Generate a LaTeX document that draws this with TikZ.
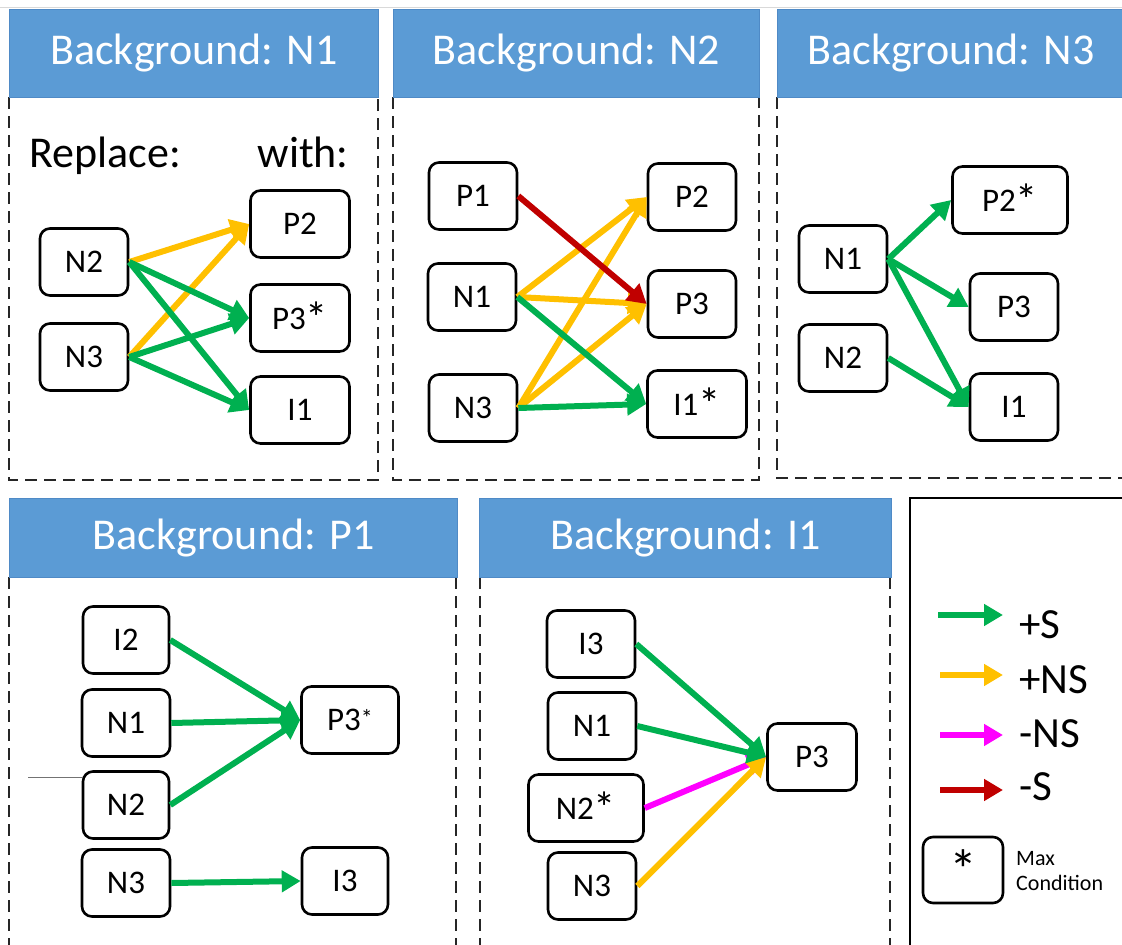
\documentclass[tikz,border=0pt]{standalone}
\usepackage{fontspec}
\setmainfont{Carlito}
\usetikzlibrary{arrows.meta}

\definecolor{hdrblue}{HTML}{5B9BD5}
\definecolor{hdredge}{HTML}{4F8AC6}
\definecolor{sgreen}{HTML}{00B050}
\definecolor{nsyellow}{HTML}{FFC000}
\definecolor{nsmag}{HTML}{FF00FF}
\definecolor{sred}{HTML}{C00000}

% asterisk marking the maximum condition
\newcommand{\maxmark}[1][1.35]{\raisebox{-0.12em}{\scalebox{#1}{*}}}

\tikzset{
  hdr/.style={fill=hdrblue, draw=hdredge, line width=1pt, text=white,
    font=\fontsize{44}{50}\selectfont, inner sep=0pt, anchor=north west},
  panel/.style={draw=black!85, line width=2.6pt, dash pattern=on 12pt off 7pt},
  nbox/.style={draw=black, line width=2.6pt, rounded corners=10pt, fill=white,
    font=\fontsize{33}{36}\selectfont, inner sep=0pt,
    minimum width=#1, minimum height=67pt},
  nbox/.default=88pt,
  bigtext/.style={font=\fontsize{44}{50}\selectfont, inner sep=0pt},
  link/.style={line width=6pt, -{Triangle[length=19pt,width=21pt]}},
  plusS/.style={link, draw=sgreen, fill=sgreen},
  plusNS/.style={link, draw=nsyellow, fill=nsyellow},
  minusNS/.style={link, draw=nsmag, fill=nsmag},
  minusS/.style={link, draw=sred, fill=sred},
  legtext/.style={font=\fontsize{43}{48}\selectfont, inner sep=0pt, anchor=base west},
}

\begin{document}
\begin{tikzpicture}[x=1pt,y=-1pt]
\useasboundingbox (0,0) rectangle (1122,945);
\clip (0,0) rectangle (1122,945);

\draw[black!15, line width=1pt] (0,7) -- (1122,7);

% ---------- panel frames and headers ----------
\draw[panel] (9,97) rectangle (378,480);
\node[hdr, minimum width=369pt, minimum height=88pt] (h1) at (9,9) {Background: N1};

\draw[panel] (393,97) rectangle (759,480);
\node[hdr, minimum width=366pt, minimum height=88pt] (h2) at (393,9) {Background: N2};

\draw[panel] (777,97) rectangle (1140,478);
\node[hdr, minimum width=363pt, minimum height=88pt, anchor=north west] (h3) at (777,9)
  {\hspace*{-16pt}Background: N3};

\draw[panel] (9,577) -- (9,960);
\draw[panel] (456,577) -- (456,960);
\node[hdr, minimum width=448pt, minimum height=79pt] (h4) at (9,498) {Background: P1};

\draw[panel] (480,577) -- (480,960);
\draw[panel] (890,577) -- (890,960);
\node[hdr, minimum width=412pt, minimum height=79pt] (h5) at (479,498) {Background: I1};

% ---------- panel 1: background N1 ----------
\node[bigtext, anchor=base west] (a-rep) at (29,167) {Replace:};
\node[bigtext, anchor=base east] (a-with) at (349,167) {with:};
\node[nbox] (a-n2) at (84,262) {N2};
\node[nbox] (a-n3) at (84,357) {N3};
\node[nbox=99pt] (a-p2) at (300,224) {P2};
\node[nbox=99pt] (a-p3) at (300,318) {P3\maxmark};
\node[nbox=99pt] (a-i1) at (300,410) {I1};
\draw[plusNS] (a-n2.east) -- (a-p2.west);
\draw[plusNS] (a-n3.east) -- (a-p2.west);
\draw[plusS] (a-n2.east) -- (a-p3.west);
\draw[plusS] (a-n2.east) -- (a-i1.west);
\draw[plusS] (a-n3.east) -- (a-p3.west);
\draw[plusS] (a-n3.east) -- (a-i1.west);

% ---------- panel 2: background N2 ----------
\node[nbox] (b-p1) at (473,196) {P1};
\node[nbox] (b-n1) at (472,297) {N1};
\node[nbox] (b-n3) at (473,408) {N3};
\node[nbox] (b-p2) at (692,197) {P2};
\node[nbox] (b-p3) at (692,304) {P3};
\node[nbox=99pt] (b-i1) at (697,404) {I1\maxmark};
\draw[plusNS] (b-n1.east) -- (b-p2.west);
\draw[plusNS] (b-n3.east) -- (b-p2.west);
\draw[plusNS] (b-n3.east) -- (b-p3.west);
\draw[plusNS] (b-n1.east) -- (b-p3.west);
\draw[plusS] (b-n1.east) -- (b-i1.west);
\draw[plusS] (b-n3.east) -- (b-i1.west);
\draw[minusS] (b-p1.east) -- (b-p3.west);

% ---------- panel 3: background N3 ----------
\node[nbox] (c-n1) at (843,259) {N1};
\node[nbox] (c-n2) at (843,358) {N2};
\node[nbox=115pt] (c-p2) at (1010,200) {P2\maxmark};
\node[nbox] (c-p3) at (1014,307) {P3};
\node[nbox] (c-i1) at (1014,407) {I1};
\draw[plusS] (c-n1.east) -- (c-p2.west);
\draw[plusS] (c-n1.east) -- (c-p3.west);
\draw[plusS] (c-n1.east) -- (c-i1.west);
\draw[plusS] (c-n2.east) -- (c-i1.west);

% ---------- panel 4: background P1 ----------
\node[nbox=86pt] (d-i2) at (126,640) {I2};
\node[nbox] (d-n1) at (126,723) {N1};
\node[nbox=86pt] (d-n2) at (126,805) {N2};
\node[nbox] (d-n3) at (126,883) {N3};
\node[nbox=97pt] (d-p3) at (350,720) {P3\raisebox{4pt}{\fontsize{24}{24}\selectfont*}};
\node[nbox=86pt] (d-i3) at (345,881) {I3};
\coordinate (d-stub) at (28,777);
\draw[black!55, line width=0.8pt] (d-stub) -- (d-n2.west |- d-stub);
\draw[plusS] (d-i2.east) -- (d-p3.west);
\draw[plusS] (d-n1.east) -- (d-p3.west);
\draw[plusS] (d-n2.east) -- (d-p3.west);
\draw[plusS] (d-n3.east) -- (d-i3.west);

% ---------- panel 5: background I1 ----------
\node[nbox] (e-i3) at (591,644) {I3};
\node[nbox] (e-n1) at (592,726) {N1};
\node[nbox=115pt] (e-n2) at (586,808) {N2\maxmark};
\node[nbox] (e-n3) at (592,886) {N3};
\node[nbox=89pt] (e-p3) at (812,757) {P3};
\draw[minusNS] (e-n2.east) -- (e-p3.west);
\draw[plusNS] (e-n3.east) -- (e-p3.west);
\draw[plusS] (e-i3.east) -- (e-p3.west);
\draw[plusS] (e-n1.east) -- (e-p3.west);

% ---------- legend ----------
\draw[black, line width=1.8pt] (910,498) rectangle (1140,960);
\coordinate (l-g0) at (938,615);  \coordinate (l-g1) at (1003,615);
\coordinate (l-y0) at (940,675);  \coordinate (l-y1) at (1003,675);
\coordinate (l-m0) at (940,735);  \coordinate (l-m1) at (1003,735);
\coordinate (l-r0) at (940,790);  \coordinate (l-r1) at (1003,790);
\draw[plusS] (l-g0) -- (l-g1);
\draw[plusNS] (l-y0) -- (l-y1);
\draw[minusNS] (l-m0) -- (l-m1);
\draw[minusS] (l-r0) -- (l-r1);
\node[legtext] (l-gt) at (1019,638) {+S};
\node[legtext] (l-yt) at (1019,693) {+NS};
\node[legtext] (l-mt) at (1019,747) {-NS};
\node[legtext] (l-rt) at (1019,800) {-S};
\node[nbox=80pt, minimum height=66pt] (l-box) at (963,870) {\raisebox{-4pt}{\maxmark[1.7]}};
\node[font=\fontsize{22}{25}\selectfont, align=left, anchor=west, inner sep=0pt]
  (l-max) at (1016,871) {Max\\Condition};
\end{tikzpicture}
\end{document}
